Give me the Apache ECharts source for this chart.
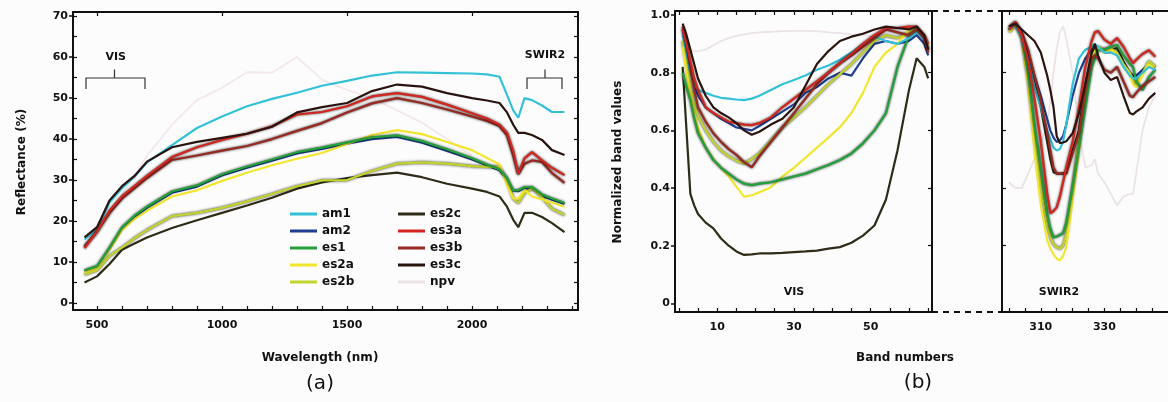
<!DOCTYPE html>
<html>
<head>
<meta charset="utf-8">
<script src="https://cdn.jsdelivr.net/npm/echarts@6/dist/echarts.min.js"></script>
<style>
  html, body { margin: 0; padding: 0; background: #fcfcfc; }
  #chart { width: 1168px; height: 402px; }
</style>
</head>
<body>
<div id="chart"></div>
<script>
// ---------- (a) reflectance spectra, % ----------
const wavelengths = [450, 500, 550, 600, 650, 700, 800, 900, 1000, 1100, 1200, 1300, 1400, 1500, 1600, 1700, 1800, 1900, 2000, 2060, 2110, 2140, 2165, 2185, 2210, 2240, 2280, 2320, 2370];
const refl_am1  = [15.5, 18, 24.5, 28, 30.8, 34.3, 38.5, 42.7, 45.5, 48, 49.8, 51.3, 53, 54.2, 55.5, 56.3, 56.2, 56.1, 56, 55.8, 55.2, 50.8, 47, 45.2, 50, 49.5, 48.2, 46.6, 46.6];
const refl_am2  = [7.8, 8.8, 13.2, 18.2, 21, 23.2, 26.9, 28.4, 31.1, 33, 34.7, 36.5, 37.6, 38.9, 40, 40.5, 39.1, 37.1, 35, 33.6, 32.4, 30.2, 27.4, 27.3, 28, 27.9, 26.2, 25.2, 24.2];
const refl_es1  = [8, 9, 13.5, 18.5, 21.3, 23.5, 27.2, 28.7, 31.4, 33.3, 35, 36.8, 37.9, 39.2, 40.4, 40.9, 39.5, 37.5, 35.3, 33.8, 32.6, 30.5, 27.5, 27.5, 28.3, 28.3, 26.5, 25.5, 24.4];
const refl_es2a = [7.5, 8.5, 13, 17.8, 20.5, 22.5, 26, 27.5, 29.8, 31.8, 33.6, 35.2, 36.6, 38.8, 41, 42.2, 41.2, 39.3, 37.3, 35.4, 33.8, 28.8, 25.5, 25.5, 27.6, 26, 25.3, 24.5, 23.5];
const refl_es2b = [7, 8, 11.5, 13.5, 15.8, 17.8, 21.2, 22, 23.2, 24.8, 26.6, 28.5, 29.9, 30, 32.2, 34, 34.3, 34, 33.4, 33.2, 33.2, 30, 25.5, 24.4, 26.8, 28, 25.8, 23, 21.5];
const refl_es2c = [5, 6.5, 9.5, 13, 14.5, 16, 18.3, 20.2, 22, 23.8, 25.7, 27.9, 29.4, 30.5, 31.2, 31.8, 30.7, 29.1, 27.9, 27.1, 26, 23.5, 20.3, 18.5, 22, 22, 21, 19.5, 17.3];
const refl_es3a = [13.4, 17.5, 22.5, 26, 28.5, 31, 35.6, 38, 39.8, 41.3, 43.1, 46, 46.6, 48, 50.4, 51.2, 50.3, 48.4, 46.3, 45, 43.5, 41.5, 37, 31.5, 35.3, 36.8, 34.8, 33, 31.2];
const refl_es3b = [13.8, 17.5, 22, 25.5, 28, 30.5, 34.9, 36, 37.2, 38.3, 40, 42, 43.9, 46.5, 48.7, 50, 48.8, 47.2, 45.5, 44.4, 43.2, 41, 36, 31.5, 34, 34.8, 34.4, 31.7, 29.3];
const refl_es3c = [16, 18.5, 25, 28.5, 31, 34.5, 38, 39.3, 40.3, 41.3, 43, 46.5, 47.8, 48.8, 51.7, 53.3, 52.8, 51.2, 50, 49.4, 48.8, 46.5, 43.5, 41.5, 41.5, 41, 39.8, 37.3, 36.1];
const refl_npv  = [14, 16.5, 21, 26.5, 31, 36, 43.5, 49.5, 52.5, 56.3, 56.2, 60, 54.5, 52, 50, 47, 44, 40, 36, null, null, null, null, null, null, null, null, null, null];

// ---------- (b) normalized band values, VIS bands ----------
const visBands = [1, 2, 3, 4, 5, 7, 9, 11, 13, 15, 17, 19, 21, 24, 27, 30, 33, 36, 39, 42, 45, 48, 51, 54, 57, 60, 62, 64, 65];
const vis_am1  = [0.93, 0.87, 0.8, 0.76, 0.74, 0.73, 0.72, 0.713, 0.71, 0.707, 0.705, 0.71, 0.72, 0.74, 0.76, 0.775, 0.79, 0.81, 0.825, 0.845, 0.87, 0.9, 0.925, 0.91, 0.9, 0.92, 0.94, 0.92, 0.88];
const vis_am2  = [0.95, 0.88, 0.82, 0.76, 0.72, 0.68, 0.66, 0.64, 0.625, 0.61, 0.605, 0.6, 0.615, 0.64, 0.665, 0.69, 0.73, 0.75, 0.78, 0.8, 0.79, 0.85, 0.9, 0.91, 0.9, 0.91, 0.93, 0.9, 0.86];
const vis_es1  = [0.8, 0.75, 0.705, 0.64, 0.59, 0.54, 0.497, 0.47, 0.45, 0.43, 0.415, 0.41, 0.415, 0.42, 0.43, 0.44, 0.45, 0.465, 0.48, 0.497, 0.52, 0.555, 0.6, 0.66, 0.82, 0.93, 0.948, 0.92, 0.88];
const vis_es2a = [0.89, 0.8, 0.72, 0.66, 0.61, 0.54, 0.5, 0.47, 0.44, 0.405, 0.37, 0.375, 0.385, 0.403, 0.44, 0.47, 0.505, 0.54, 0.575, 0.611, 0.66, 0.73, 0.82, 0.87, 0.9, 0.95, 0.96, 0.93, 0.89];
const vis_es2b = [0.91, 0.83, 0.75, 0.69, 0.65, 0.6, 0.56, 0.53, 0.51, 0.495, 0.485, 0.5, 0.52, 0.565, 0.61, 0.645, 0.68, 0.72, 0.76, 0.795, 0.83, 0.87, 0.91, 0.93, 0.92, 0.94, 0.95, 0.92, 0.88];
const vis_es2c = [0.82, 0.6, 0.38, 0.34, 0.31, 0.28, 0.26, 0.225, 0.2, 0.18, 0.168, 0.17, 0.173, 0.173, 0.175, 0.178, 0.18, 0.183, 0.19, 0.195, 0.21, 0.235, 0.27, 0.36, 0.53, 0.74, 0.85, 0.82, 0.78];
const vis_es3a = [0.95, 0.9, 0.84, 0.78, 0.74, 0.68, 0.66, 0.645, 0.63, 0.625, 0.62, 0.618, 0.625, 0.645, 0.68, 0.71, 0.74, 0.77, 0.8, 0.833, 0.865, 0.9, 0.93, 0.955, 0.955, 0.96, 0.96, 0.93, 0.9];
const vis_es3b = [0.96, 0.9, 0.82, 0.74, 0.68, 0.63, 0.59, 0.56, 0.535, 0.515, 0.49, 0.472, 0.51, 0.56, 0.61, 0.66, 0.71, 0.76, 0.8, 0.833, 0.86, 0.89, 0.92, 0.95, 0.94, 0.93, 0.95, 0.92, 0.87];
const vis_es3c = [0.97, 0.93, 0.88, 0.83, 0.78, 0.72, 0.68, 0.66, 0.645, 0.625, 0.6, 0.585, 0.595, 0.62, 0.64, 0.68, 0.755, 0.83, 0.875, 0.91, 0.925, 0.935, 0.95, 0.96, 0.955, 0.95, 0.96, 0.93, 0.88];
const vis_npv  = [0.9, 0.89, 0.88, 0.875, 0.875, 0.88, 0.895, 0.91, 0.92, 0.928, 0.933, 0.937, 0.94, 0.942, 0.944, 0.945, 0.945, 0.944, 0.94, 0.937, 0.933, 0.93, 0.925, 0.92, 0.92, 0.925, 0.93, 0.9, 0.88];

// ---------- (b) normalized band values, SWIR2 bands ----------
const swirBands = [300, 302, 304, 306, 308, 310, 312, 313, 314, 315, 316, 317, 318, 320, 322, 324, 326, 327, 328, 330, 332, 334, 336, 338, 339, 340, 342, 344, 346];
const swir_am1  = [0.95, 0.97, 0.92, 0.85, 0.75, 0.68, 0.6, 0.57, 0.54, 0.53, 0.535, 0.56, 0.62, 0.76, 0.85, 0.88, 0.89, 0.9, 0.89, 0.87, 0.87, 0.86, 0.82, 0.79, 0.78, 0.78, 0.8, 0.82, 0.81];
const swir_am2  = [0.95, 0.97, 0.93, 0.87, 0.79, 0.72, 0.64, 0.6, 0.575, 0.56, 0.565, 0.58, 0.62, 0.72, 0.8, 0.85, 0.88, 0.89, 0.89, 0.87, 0.87, 0.87, 0.83, 0.8, 0.79, 0.79, 0.81, 0.83, 0.82];
const swir_es1  = [0.95, 0.97, 0.93, 0.8, 0.62, 0.472, 0.3125, 0.26, 0.229, 0.232, 0.237, 0.243, 0.28, 0.403, 0.54, 0.68, 0.82, 0.85, 0.878, 0.88, 0.89, 0.896, 0.86, 0.83, 0.82, 0.77, 0.74, 0.785, 0.81];
const swir_es2a = [0.94, 0.965, 0.92, 0.76, 0.53, 0.34, 0.219, 0.19, 0.17, 0.155, 0.149, 0.165, 0.194, 0.358, 0.53, 0.705, 0.844, 0.87, 0.885, 0.87, 0.88, 0.86, 0.82, 0.79, 0.76, 0.75, 0.79, 0.83, 0.81];
const swir_es2b = [0.94, 0.965, 0.92, 0.78, 0.58, 0.4, 0.27, 0.23, 0.205, 0.195, 0.19, 0.2, 0.24, 0.4, 0.57, 0.74, 0.85, 0.875, 0.89, 0.88, 0.885, 0.87, 0.83, 0.8, 0.78, 0.76, 0.8, 0.84, 0.82];
const swir_es2c = [0.95, 0.97, 0.93, 0.86, 0.77, 0.68, 0.56, 0.5, 0.455, 0.45, 0.45, 0.45, 0.455, 0.53, 0.6, 0.76, 0.86, 0.88, 0.89, 0.87, 0.88, 0.885, 0.84, 0.8, 0.79, 0.78, 0.8, 0.83, 0.82];
const swir_es3a = [0.95, 0.976, 0.93, 0.84, 0.71, 0.56, 0.38, 0.3125, 0.32, 0.333, 0.37, 0.42, 0.472, 0.56, 0.68, 0.82, 0.91, 0.94, 0.945, 0.915, 0.9, 0.92, 0.89, 0.85, 0.833, 0.845, 0.865, 0.878, 0.855];
const swir_es3b = [0.96, 0.975, 0.94, 0.88, 0.79, 0.705, 0.59, 0.53, 0.47, 0.45, 0.45, 0.45, 0.45, 0.52, 0.59, 0.74, 0.85, 0.86, 0.85, 0.81, 0.8, 0.82, 0.77, 0.72, 0.715, 0.73, 0.755, 0.77, 0.785];
const swir_es3c = [0.96, 0.97, 0.95, 0.93, 0.91, 0.87, 0.79, 0.74, 0.68, 0.58, 0.556, 0.558, 0.562, 0.59, 0.66, 0.76, 0.87, 0.9, 0.86, 0.8, 0.775, 0.785, 0.72, 0.66, 0.655, 0.665, 0.68, 0.71, 0.73];
const swir_npv  = [0.42, 0.4, 0.4, 0.45, 0.5, 0.55, 0.62, 0.7, 0.8, 0.88, 0.94, 0.96, 0.92, 0.8, 0.6, 0.47, 0.48, 0.5, 0.45, 0.42, 0.38, 0.34, 0.37, 0.38, 0.38, 0.45, 0.6, 0.68, 0.72];

// ---------- axis ticks and labels ----------
const wlLabels = [500, 1000, 1500, 2000];
const reflLabels = [0, 10, 20, 30, 40, 50, 60, 70];
const visLabels = [10, 30, 50];
const swirLabels = [310, 330];
const normLabels = [0, 0.2, 0.4, 0.6, 0.8, 1.0];

// drawing order, back to front
const curveNames = ['npv', 'am2', 'es2c', 'es2b', 'es2a', 'es1', 'am1', 'es3b', 'es3a', 'es3c'];
const legendLeft = ['am1', 'am2', 'es1', 'es2a', 'es2b'];
const legendRight = ['es2c', 'es3a', 'es3b', 'es3c', 'npv'];

const reflByName = { am1: refl_am1, am2: refl_am2, es1: refl_es1, es2a: refl_es2a, es2b: refl_es2b, es2c: refl_es2c, es3a: refl_es3a, es3b: refl_es3b, es3c: refl_es3c, npv: refl_npv };
const visByName  = { am1: vis_am1, am2: vis_am2, es1: vis_es1, es2a: vis_es2a, es2b: vis_es2b, es2c: vis_es2c, es3a: vis_es3a, es3b: vis_es3b, es3c: vis_es3c, npv: vis_npv };
const swirByName = { am1: swir_am1, am2: swir_am2, es1: swir_es1, es2a: swir_es2a, es2b: swir_es2b, es2c: swir_es2c, es3a: swir_es3a, es3b: swir_es3b, es3c: swir_es3c, npv: swir_npv };

const lineColor = {
  am1: '#34c1d8', am2: '#1f3f92', es1: '#22a03a', es2a: '#f2e62e', es2b: '#c3d52c',
  es2c: '#2e2c16', es3a: '#d2261e', es3b: '#982a22', es3c: '#2a1410', npv: '#ebe3e6'
};
// curves that carry a dark outline
const outlined = { es1: true, es2b: true, es3a: true, es3b: true };

function steps(from, to, step) {
  const out = [];
  for (let v = from; v <= to + 1e-9; v += step) out.push(+v.toFixed(4));
  return out;
}

const INK = '#111';
const FONT = 'DejaVu Sans';
const tickFont = { fontFamily: FONT, fontWeight: 'bold', fontSize: 11, color: INK };
const frameLine = { show: true, onZero: false, lineStyle: { color: INK, width: 2 } };
const plainNumber = function (v) { return String(v); };

function xAxisDef(grid, min, max, pos, labels, ticks) {
  return {
    type: 'value', gridIndex: grid, min: min, max: max, position: pos,
    axisLine: frameLine,
    axisTick: { show: true, inside: true, length: 4, customValues: ticks, lineStyle: { color: INK, width: 1.2 } },
    axisLabel: labels ? Object.assign({ show: true, margin: 10, customValues: labels, formatter: plainNumber }, tickFont) : { show: false },
    splitLine: { show: false }
  };
}
function yAxisDef(grid, min, max, pos, opts) {
  return Object.assign({
    type: 'value', gridIndex: grid, min: min, max: max, position: pos,
    axisLine: frameLine,
    axisTick: { show: false },
    axisLabel: { show: false },
    splitLine: { show: false }
  }, opts);
}

const grids = [
  { left: 73, top: 12, width: 505, height: 298 },
  { left: 675, top: 11, width: 257, height: 301 },
  { left: 1002, top: 11, width: 175, height: 301 }
];

const xAxes = [
  xAxisDef(0, 404, 2424, 'bottom', wlLabels, steps(500, 2400, 100)),
  xAxisDef(0, 404, 2424, 'top', null, wlLabels),
  xAxisDef(1, -1, 66, 'bottom', visLabels, steps(0, 65, 5)),
  xAxisDef(1, -1, 66, 'top', null, steps(0, 65, 5)),
  xAxisDef(2, 297.8, 350, 'bottom', swirLabels, steps(300, 345, 5)),
  xAxisDef(2, 297.8, 350, 'top', null, steps(300, 345, 5))
];

const yAxes = [
  // (a) left: labels with outward ticks
  yAxisDef(0, -1.7, 71, 'left', {
    axisTick: { show: true, inside: false, length: 4, customValues: reflLabels, lineStyle: { color: INK, width: 1.5 } },
    axisLabel: Object.assign({ show: true, margin: 5, customValues: reflLabels, formatter: plainNumber }, tickFont)
  }),
  // (a) left: inner minor ticks
  yAxisDef(0, -1.7, 71, 'left', {
    axisLine: { show: false, onZero: false },
    axisTick: { show: true, inside: true, length: 4, customValues: steps(0, 70, 5), lineStyle: { color: INK, width: 1.2 } }
  }),
  // (a) right frame
  yAxisDef(0, -1.7, 71, 'right', {
    axisTick: { show: true, inside: true, length: 4, customValues: steps(0, 70, 5), lineStyle: { color: INK, width: 1.2 } }
  }),
  // (b) VIS left: labels
  yAxisDef(1, -0.03, 1.014, 'left', {
    axisTick: { show: true, inside: false, length: 4, customValues: normLabels, lineStyle: { color: INK, width: 1.5 } },
    axisLabel: Object.assign({
      show: true, margin: 5, customValues: normLabels,
      formatter: function (v) { return v === 0 ? '0' : v.toFixed(1); }
    }, tickFont)
  }),
  // (b) VIS right frame
  yAxisDef(1, -0.03, 1.014, 'right', {
    axisTick: { show: true, inside: true, length: 4, customValues: normLabels.slice(1, 5), lineStyle: { color: INK, width: 1.2 } }
  }),
  // (b) SWIR2 left frame
  yAxisDef(2, -0.03, 1.014, 'left', {
    axisTick: { show: true, inside: true, length: 4, customValues: normLabels.slice(1, 5), lineStyle: { color: INK, width: 1.2 } }
  })
];

function zip(xs, ys) { return xs.map(function (x, i) { return [x, ys[i]]; }); }

const series = [];
curveNames.forEach(function (name, k) {
  const panels = [
    { x: 0, y: 0, data: zip(wavelengths, reflByName[name]) },
    { x: 2, y: 3, data: zip(visBands, visByName[name]) },
    { x: 4, y: 5, data: zip(swirBands, swirByName[name]) }
  ];
  panels.forEach(function (p, pi) {
    // the npv spectrum is barely visible in (a)
    const color = (name === 'npv' && pi === 0) ? '#f3e8ec' : lineColor[name];
    series.push({
      type: 'line', name: name, xAxisIndex: p.x, yAxisIndex: p.y,
      data: p.data, symbol: 'none', showSymbol: false,
      color: lineColor[name],
      lineStyle: {
        color: color,
        width: name === 'npv' ? 1.8 : 2.2,
        shadowColor: outlined[name] ? 'rgba(0,0,0,0.85)' : 'transparent',
        shadowBlur: outlined[name] ? 2.5 : 0
      },
      z: 2 + k, connectNulls: false, silent: true
    });
  });
});

const legendText = { fontFamily: FONT, fontWeight: 'bold', fontSize: 12, color: INK, lineHeight: 14 };
const legends = [
  { data: legendLeft, left: 290, top: 207 },
  { data: legendRight, left: 398, top: 207 }
].map(function (l) {
  return {
    data: l.data, left: l.left, top: l.top, orient: 'vertical',
    icon: 'rect', itemWidth: 27, itemHeight: 3, itemGap: 3,
    textStyle: legendText, selectedMode: false, padding: 0
  };
});

const chart = echarts.init(document.getElementById('chart'), null, { renderer: 'canvas' });
chart.setOption({
  backgroundColor: '#fcfcfc',
  animation: false,
  grid: grids,
  xAxis: xAxes,
  yAxis: yAxes,
  legend: legends,
  series: series
});

// ---------- annotations placed through the axes ----------
function px(grid, x, y) { return chart.convertToPixel({ gridIndex: grid }, [x, y]); }

function brace(x1, x2, xc) {
  const a = px(0, x1, 52.2), b = px(0, x1, 54.9);
  const c = px(0, xc, 54.9), d = px(0, xc, 57);
  const e = px(0, x2, 54.9), f = px(0, x2, 52.2);
  return {
    type: 'polyline', silent: true,
    shape: { points: [a, b, c, d, c, e, f] },
    style: { stroke: '#333', lineWidth: 1.2, fill: null }
  };
}
function label(text, pos, size, weight, rotation) {
  return {
    type: 'text', silent: true, x: pos[0], y: pos[1], rotation: rotation || 0,
    style: {
      text: text, fill: INK, font: (weight || 'bold') + ' ' + size + 'px "' + FONT + '"',
      textAlign: 'center', textVerticalAlign: 'middle'
    }
  };
}

const g1 = grids[1], g2 = grids[2];
const graphics = [
  brace(456, 692, 570),
  label('VIS', px(0, 575, 60), 11),
  brace(2220, 2360, 2292),
  label('SWIR2', px(0, 2292, 60.5), 11),
  label('VIS', px(1, 30, 0.04), 11),
  label('SWIR2', px(2, 315.7, 0.04), 11),
  label('Reflectance (%)', [22, 162], 12, 'bold', Math.PI / 2),
  label('Wavelength (nm)', [320, 358], 12),
  label('(a)', [320, 384], 20, 'normal'),
  label('Normalized band values', [618, 162], 12, 'bold', Math.PI / 2),
  label('Band numbers', [905, 358], 12),
  label('(b)', [918, 383], 20, 'normal'),
  {
    type: 'line', silent: true,
    shape: { x1: g1.left + g1.width, y1: g1.top, x2: g2.left, y2: g2.top },
    style: { stroke: INK, lineWidth: 2, lineDash: [6, 5] }
  },
  {
    type: 'line', silent: true,
    shape: { x1: g1.left + g1.width, y1: g1.top + g1.height, x2: g2.left, y2: g2.top + g2.height },
    style: { stroke: INK, lineWidth: 2, lineDash: [6, 5] }
  }
];
chart.setOption({ graphic: graphics });
</script>
</body>
</html>
